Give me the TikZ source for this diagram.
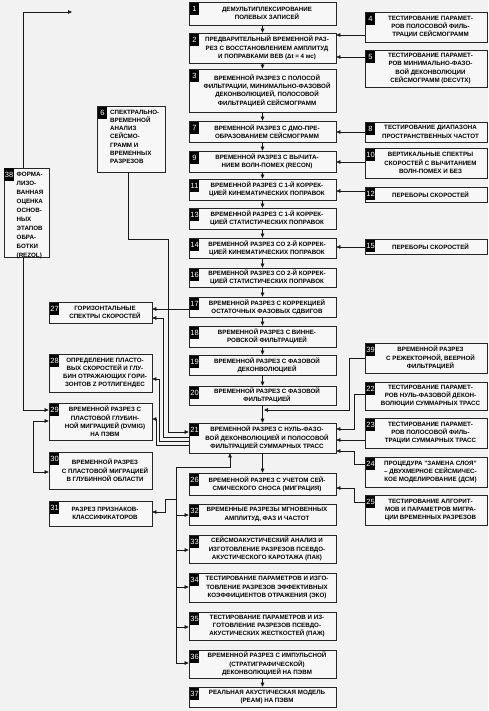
\documentclass[tikz,border=0pt]{standalone}
\usepackage{fontspec}
\setmainfont{Liberation Sans}
\usetikzlibrary{arrows.meta}
\definecolor{bg}{HTML}{F2F2F2}
\definecolor{boxfill}{HTML}{F7F7F7}
\tikzset{
  boxshape/.style={draw=black!85, line width=0.75pt, fill=boxfill, inner sep=0pt, rectangle},
  numlab/.style={fill=black, text=white, font=\fontsize{7.5}{7.5}\selectfont, inner sep=0.6pt,
                 minimum height=12.5pt, minimum width=9.5pt, anchor=north west},
  boxtext/.style={font=\bfseries\fontsize{6.2}{8.3}\selectfont, align=center, inner sep=0pt},
  conn/.style={line width=0.6pt, draw=black!90},
  arr/.style={conn, -{Triangle[length=4pt,width=3.6pt]}},
  arrboth/.style={conn, {Triangle[length=4pt,width=3.6pt]}-{Triangle[length=4pt,width=3.6pt]}},
}
\newcommand\bx[8][]{%
  \node[boxshape, minimum width={#5pt-#3pt}, minimum height={#6pt-#4pt}] (#2) at ({(#3+#5)/2},{(#4+#6)/2}) {};
  \node[numlab] (#2n) at ([xshift=1pt,yshift=-1pt]#2.north west) {#7};
  \node[boxtext, xshift=4.5pt, #1] (#2t) at (#2.center) {#8};
}
\begin{document}
\begin{tikzpicture}[x=1pt,y=-1pt]
\fill[bg] (0,0) rectangle (488,711);
\useasboundingbox (0,0) rectangle (488,711);

% centre column
\bx{b1}{189}{2}{336}{25}{1}{ДЕМУЛЬТИПЛЕКСИРОВАНИЕ\\ПОЛЕВЫХ ЗАПИСЕЙ}
\bx{b2}{189}{33}{336}{63}{2}{ПРЕДВАРИТЕЛЬНЫЙ ВРЕМЕННОЙ РАЗ-\\РЕЗ С ВОССТАНОВЛЕНИЕМ АМПЛИТУД\\И ПОПРАВКАМИ ВЕВ (Δt = 4 мс)}
\bx{b3}{189}{69}{336}{112}{3}{ВРЕМЕННОЙ РАЗРЕЗ С ПОЛОСОЙ\\ФИЛЬТРАЦИИ, МИНИМАЛЬНО-ФАЗОВОЙ\\ДЕКОНВОЛЮЦИЕЙ, ПОЛОСОВОЙ\\ФИЛЬТРАЦИЕЙ СЕЙСМОГРАММ}
\bx{b7}{189}{121}{336}{142}{7}{ВРЕМЕННОЙ РАЗРЕЗ С ДМО-ПРЕ-\\ОБРАЗОВАНИЕМ СЕЙСМОГРАММ}
\bx{b9}{189}{151}{336}{172}{9}{ВРЕМЕННОЙ РАЗРЕЗ С ВЫЧИТА-\\НИЕМ ВОЛН-ПОМЕХ (RECON)}
\bx{b11}{189}{179}{336}{200}{11}{ВРЕМЕННОЙ РАЗРЕЗ С 1-Й КОРРЕК-\\ЦИЕЙ КИНЕМАТИЧЕСКИХ ПОПРАВОК}
\bx{b13}{189}{208}{336}{229}{13}{ВРЕМЕННОЙ РАЗРЕЗ С 1-Й КОРРЕК-\\ЦИЕЙ СТАТИСТИЧЕСКИХ ПОПРАВОК}
\bx{b14}{189}{238}{336}{258}{14}{ВРЕМЕННОЙ РАЗРЕЗ СО 2-Й КОРРЕК-\\ЦИЕЙ КИНЕМАТИЧЕСКИХ ПОПРАВОК}
\bx{b16}{189}{268}{336}{287}{16}{ВРЕМЕННОЙ РАЗРЕЗ СО 2-Й КОРРЕК-\\ЦИЕЙ СТАТИСТИЧЕСКИХ ПОПРАВОК}
\bx{b17}{189}{297}{336}{317}{17}{ВРЕМЕННОЙ РАЗРЕЗ С КОРРЕКЦИЕЙ\\ОСТАТОЧНЫХ ФАЗОВЫХ СДВИГОВ}
\bx{b18}{189}{326}{336}{347}{18}{ВРЕМЕННОЙ РАЗРЕЗ С ВИННЕ-\\РОВСКОЙ ФИЛЬТРАЦИЕЙ}
\bx{b19}{189}{355}{336}{375}{19}{ВРЕМЕННОЙ РАЗРЕЗ С ФАЗОВОЙ\\ДЕКОНВОЛЮЦИЕЙ}
\bx{b20}{189}{386}{336}{405}{20}{ВРЕМЕННОЙ РАЗРЕЗ С ФАЗОВОЙ\\ФИЛЬТРАЦИЕЙ}
\bx{b21}{189}{423}{336}{453}{21}{ВРЕМЕННОЙ РАЗРЕЗ С НУЛЬ-ФАЗО-\\ВОЙ ДЕКОНВОЛЮЦИЕЙ И ПОЛОСОВОЙ\\ФИЛЬТРАЦИЕЙ СУММАРНЫХ ТРАСС}
\bx{b26}{189}{473}{336}{495}{26}{ВРЕМЕННОЙ РАЗРЕЗ С УЧЕТОМ СЕЙ-\\СМИЧЕСКОГО СНОСА (МИГРАЦИЯ)}
\bx{b32}{189}{504}{336}{525}{32}{ВРЕМЕННЫЕ РАЗРЕЗЫ МГНОВЕННЫХ\\АМПЛИТУД, ФАЗ И ЧАСТОТ}
\bx{b33}{189}{535}{336}{563}{33}{СЕЙСМОАКУСТИЧЕСКИЙ АНАЛИЗ И\\ИЗГОТОВЛЕНИЕ РАЗРЕЗОВ ПСЕВДО-\\АКУСТИЧЕСКОГО КАРОТАЖА (ПАК)}
\bx{b34}{189}{573}{336}{602}{34}{ТЕСТИРОВАНИЕ ПАРАМЕТРОВ И ИЗГО-\\ТОВЛЕНИЕ РАЗРЕЗОВ ЭФФЕКТИВНЫХ\\КОЭФФИЦИЕНТОВ ОТРАЖЕНИЯ (ЭКО)}
\bx{b35}{189}{612}{336}{640}{35}{ТЕСТИРОВАНИЕ ПАРАМЕТРОВ И ИЗ-\\ГОТОВЛЕНИЕ РАЗРЕЗОВ ПСЕВДО-\\АКУСТИЧЕСКИХ ЖЕСТКОСТЕЙ (ПАЖ)}
\bx{b36}{189}{650}{336}{678}{36}{ВРЕМЕННОЙ РАЗРЕЗ С ИМПУЛЬСНОЙ\\(СТРАТИГРАФИЧЕСКОЙ)\\ДЕКОНВОЛЮЦИЕЙ НА ПЭВМ}
\bx{b37}{189}{687}{336}{707}{37}{РЕАЛЬНАЯ АКУСТИЧЕСКАЯ МОДЕЛЬ\\(РЕАМ) НА ПЭВМ}

% right column
\bx{b4}{365}{12}{487}{42}{4}{ТЕСТИРОВАНИЕ ПАРАМЕТ-\\РОВ ПОЛОСОВОЙ ФИЛЬ-\\ТРАЦИИ СЕЙСМОГРАММ}
\bx{b5}{365}{50}{487}{87}{5}{ТЕСТИРОВАНИЕ ПАРАМЕТ-\\РОВ МИНИМАЛЬНО-ФАЗО-\\ВОЙ ДЕКОНВОЛЮЦИИ\\СЕЙСМОГРАММ (DECVTX)}
\bx{b8}{365}{122}{487}{142}{8}{ТЕСТИРОВАНИЕ ДИАПАЗОНА\\ПРОСТРАНСТВЕННЫХ ЧАСТОТ}
\bx{b10}{365}{148}{487}{178}{10}{ВЕРТИКАЛЬНЫЕ СПЕКТРЫ\\СКОРОСТЕЙ С ВЫЧИТАНИЕМ\\ВОЛН-ПОМЕХ И БЕЗ}
\bx{b12}{365}{187}{487}{202}{12}{ПЕРЕБОРЫ СКОРОСТЕЙ}
\bx{b15}{365}{239}{487}{254}{15}{ПЕРЕБОРЫ СКОРОСТЕЙ}
\bx{b39}{365}{343}{487}{373}{39}{ВРЕМЕННОЙ РАЗРЕЗ\\С РЕЖЕКТОРНОЙ, ВЕЕРНОЙ\\ФИЛЬТРАЦИЕЙ}
\bx{b22}{365}{382}{487}{410}{22}{ТЕСТИРОВАНИЕ ПАРАМЕТ-\\РОВ НУЛЬ-ФАЗОВОЙ ДЕКОН-\\ВОЛЮЦИИ СУММАРНЫХ ТРАСС}
\bx{b23}{365}{418}{487}{448}{23}{ТЕСТИРОВАНИЕ ПАРАМЕТ-\\РОВ ПОЛОСОВОЙ ФИЛЬ-\\ТРАЦИИ СУММАРНЫХ ТРАСС}
\bx{b24}{365}{457}{487}{487}{24}{ПРОЦЕДУРА "ЗАМЕНА СЛОЯ"\\– ДВУХМЕРНОЕ СЕЙСМИЧЕС-\\КОЕ МОДЕЛИРОВАНИЕ (ДСМ)}
\bx{b25}{365}{495}{487}{525}{25}{ТЕСТИРОВАНИЕ АЛГОРИТ-\\МОВ И ПАРАМЕТРОВ МИГРА-\\ЦИИ ВРЕМЕННЫХ РАЗРЕЗОВ}

% left column
\bx{b27}{49}{302}{152}{323}{27}{ГОРИЗОНТАЛЬНЫЕ\\СПЕКТРЫ СКОРОСТЕЙ}
\bx{b28}{49}{354}{152}{392}{28}{ОПРЕДЕЛЕНИЕ ПЛАСТО-\\ВЫХ СКОРОСТЕЙ И ГЛУ-\\БИН ОТРАЖАЮЩИХ ГОРИ-\\ЗОНТОВ Z РОТЛИГЕНДЕС}
\bx{b29}{49}{403}{152}{440}{29}{ВРЕМЕННОЙ РАЗРЕЗ С\\ПЛАСТОВОЙ ГЛУБИН-\\НОЙ МИГРАЦИЕЙ (DVMIG)\\НА ПЭВМ}
\bx{b30}{49}{452}{152}{489}{30}{ВРЕМЕННОЙ РАЗРЕЗ\\С ПЛАСТОВОЙ МИГРАЦИЕЙ\\В ГЛУБИННОЙ ОБЛАСТИ}
\bx{b31}{49}{501}{152}{526}{31}{РАЗРЕЗ ПРИЗНАКОВ-\\КЛАССИФИКАТОРОВ}

% box 6 (left aligned)
\node[boxshape, minimum width=68pt, minimum height=66pt] (b6) at (131,139) {};
\node[numlab] (b6n) at ([xshift=1pt,yshift=-1pt]b6.north west) {6};
\node[boxtext, align=left, anchor=north west] (b6t) at (110,109.5)
  {СПЕКТРАЛЬНО-\\ВРЕМЕННОЙ\\АНАЛИЗ\\СЕЙСМО-\\ГРАММ И\\ВРЕМЕННЫХ\\РАЗРЕЗОВ};
% box 38 (left aligned)
\node[boxshape, minimum width=45pt, minimum height=89pt] (b38) at (26.5,212.5) {};
\node[numlab] (b38n) at ([xshift=0.5pt,yshift=-0.5pt]b38.north west) {38};
\node[boxtext, align=left, anchor=north west, font=\bfseries\fontsize{6.2}{9}\selectfont] (b38t) at (16.5,171.5)
  {ФОРМА-\\ЛИЗО-\\ВАННАЯ\\ОЦЕНКА\\ОСНОВ-\\НЫХ\\ЭТАПОВ\\ОБРА-\\БОТКИ\\(REZOL)};

% coordinates for free ends / junctions
\coordinate (topend) at (72,12);
\coordinate (j39) at (264,410);
\coordinate (bus) at (176,467);

% centre chain
\foreach \a/\b in {b1/b2,b2/b3,b3/b7,b7/b9,b9/b11,b11/b13,b13/b14,b14/b16,b16/b17,b17/b18,b18/b19,b19/b20,b20/b21,b21/b26,b36/b37}
  \draw[arr] (\a.south) -- (\b.north);

% right column inputs
\draw[arr] (b4.west |- 0,35) -- (b2.east |- 0,35);
\draw[arr] (b5.west |- 0,57) -- (b2.east |- 0,57);
\draw[arr] (b8.west |- 0,132) -- (b7.east |- 0,132);
\draw[arr] (b10.west |- 0,162) -- (b9.east |- 0,162);
\draw[arr] (b12.west |- 0,191) -- (b11.east |- 0,191);
\draw[arr] (b15.west |- 0,247) -- (b14.east |- 0,247);
\draw[arr] (b39.west |- 0,358) -- (349,358) -- (349,410) -- (j39);
\draw[arr] (b22.west |- 0,394) -- (354,394) -- (354,429) -- (b21.east |- 0,429);
\draw[arr] (b23.west |- 0,440) -- (b21.east |- 0,440);
\draw[arr] (b24.west |- 0,464) -- (354,464) -- (354,451) -- (b21.east |- 0,451);
\draw[arr] (b25.west |- 0,502) -- (354,502) -- (354,488) -- (b26.east |- 0,488);

% left side
\draw[arr] (b17.west |- 0,309) -- (b27.east |- 0,309);
\draw[arr] (b6.south -| 128,0) -- (128,239) -- (168,239) -- (168,432) -- (b21.west |- 0,432);
\draw[arr] (b21.west |- 0,437) -- (163,437) -- (163,318) -- (b27.east |- 0,318);
\draw[arr] (b21.west |- 0,441) -- (159,441) -- (159,379) -- (b28.east |- 0,379);
\draw[arr] (b21.west |- 0,445) -- (156,445) -- (156,419) -- (b29.east |- 0,419);
\draw[arr] (b38.north -| 23,0) -- (23,12) -- (topend);
\draw[arr] (b38.south -| 23,0) -- (23,410) -- (b29.west |- 0,410);
\draw[arrboth] (b29.west |- 0,421) -- (33,421) -- (33,472) -- (b30.west |- 0,472);

% bus below 21
\draw[arr] (bus) -- (230,467) -- (b21.south -| 230,0);
\draw[conn] (bus) -- (176,663);
\draw[arr] (176,515) -- (b32.west |- 0,515);
\draw[arr] (176,550) -- (b33.west |- 0,550);
\draw[arr] (176,587) -- (b34.west |- 0,587);
\draw[arr] (176,627) -- (b35.west |- 0,627);
\draw[arr] (176,663) -- (b36.west |- 0,663);
\draw[arr] (176,499) -- (165,499) -- (165,512) -- (b31.east |- 0,512);
\end{tikzpicture}
\end{document}
